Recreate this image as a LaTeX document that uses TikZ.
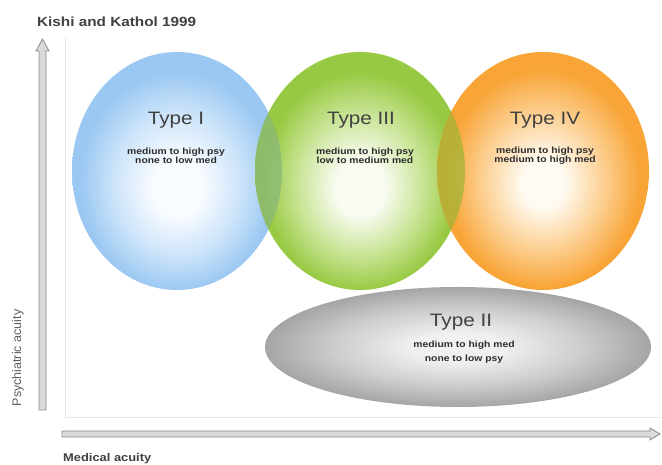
\documentclass[tikz,border=0pt]{standalone}
\usepackage{fontspec}
\setmainfont{Liberation Sans}[FakeStretch=1.15]
\newfontfamily\plainsans{Liberation Sans}
\usetikzlibrary{shapes.geometric}
\definecolor{blueO}{RGB}{155,200,242}
\definecolor{blueM}{RGB}{205,228,250}
\definecolor{blueC}{RGB}{248,251,255}
\definecolor{greenO}{RGB}{152,201,66}
\definecolor{greenM}{RGB}{200,228,148}
\definecolor{greenC}{RGB}{248,251,240}
\definecolor{orangeO}{RGB}{248,164,54}
\definecolor{orangeM}{RGB}{252,204,138}
\definecolor{orangeC}{RGB}{255,251,242}
\definecolor{grayO}{RGB}{165,165,165}
\definecolor{grayM}{RGB}{205,205,205}
\definecolor{grayC}{RGB}{240,240,240}
\definecolor{lensBG}{RGB}{140,185,118}
\definecolor{lensGO}{RGB}{168,180,55}
\definecolor{ttlgray}{RGB}{65,65,65}
\definecolor{subgray}{RGB}{45,45,45}
\definecolor{axisline}{RGB}{140,140,140}
\definecolor{axisfill}{RGB}{218,218,218}
\definecolor{framegray}{RGB}{232,232,232}
\pgfdeclareradialshading{blueshade}{\pgfpoint{0bp}{-4bp}}{color(0bp)=(blueC); color(6bp)=(blueC); color(15bp)=(blueM); color(23bp)=(blueO); color(50bp)=(blueO)}
\pgfdeclareradialshading{greenshade}{\pgfpoint{0bp}{-4bp}}{color(0bp)=(greenC); color(6bp)=(greenC); color(15bp)=(greenM); color(23bp)=(greenO); color(50bp)=(greenO)}
\pgfdeclareradialshading{orangeshade}{\pgfpoint{0bp}{-3bp}}{color(0bp)=(orangeC); color(5bp)=(orangeC); color(15bp)=(orangeM); color(23bp)=(orangeO); color(50bp)=(orangeO)}
\pgfdeclareradialshading{grayshade}{\pgfpoint{0bp}{0bp}}{color(0bp)=(grayC); color(6bp)=(grayC); color(16bp)=(grayM); color(25bp)=(grayO); color(50bp)=(grayO)}
\begin{document}
\begin{tikzpicture}[x=1pt,y=1pt,
  blob/.style={ellipse, draw=none, inner sep=0pt, outer sep=0pt, shade},
  ttl/.style={font=\fontsize{18}{20}\selectfont, text=ttlgray, inner sep=0pt},
  sub/.style={font=\fontsize{9}{9}\selectfont\bfseries, text=subgray, align=center, inner sep=0pt},
  axisarrow/.style={draw=axisline, fill=axisfill, line width=0.8pt, line join=miter},
  frameline/.style={draw=framegray, line width=1pt}]
\useasboundingbox[fill=white] (0,0) rectangle (662,465);
% faint frame
\coordinate (fo) at (65,47);
\coordinate (ft) at (65,427);
\coordinate (fr) at (662,47);
\draw[frameline] (ft) -- (fo) -- (fr);
% axes (hollow block arrows)
\draw[axisarrow] (39,55) -- (39,414) -- (36,414) -- (42.5,426) -- (49,414) -- (46,414) -- (46,55) -- cycle;
\draw[axisarrow] (62,28) -- (650,28) -- (650,25) -- (660,31) -- (650,37) -- (650,34) -- (62,34) -- cycle;
% ellipses
\node[blob, minimum width=210pt, minimum height=238pt, shading=blueshade] (e1) at (177,294) {};
\node[blob, minimum width=210pt, minimum height=238pt, shading=greenshade] (e3) at (360,294) {};
\node[blob, minimum width=212pt, minimum height=238pt, shading=orangeshade] (e4) at (543,294) {};
% overlaps
\begin{scope}
  \clip (e1.center) ellipse [x radius=105, y radius=119];
  \fill[lensBG, fill opacity=0.8] (e3.center) ellipse [x radius=105, y radius=119];
\end{scope}
\begin{scope}
  \clip (e3.center) ellipse [x radius=105, y radius=119];
  \fill[lensGO, fill opacity=0.8] (e4.center) ellipse [x radius=106, y radius=119];
\end{scope}
\node[blob, minimum width=386pt, minimum height=120pt, shading=grayshade] (e2) at (458,118) {};
% texts
\node[ttl] (t1) at (176,345) {Type I};
\node[sub] (s1) at (176,309) {medium to high psy\\none to low med};
\node[ttl] (t3) at (361,345) {Type III};
\node[sub] (s3) at (365,309) {medium to high psy\\low to medium med};
\node[ttl] (t4) at (545,345) {Type IV};
\node[sub] (s4) at (545,309) {medium to high psy\\medium to high med};
\node[ttl] (t2) at (461,143) {Type II};
\node[sub, font=\fontsize{9}{14}\selectfont\bfseries] (s2) at (464,113) {medium to high med\\none to low psy};
% axis labels and title
\node[anchor=west, inner sep=0pt, font=\fontsize{13.3}{15}\selectfont\bfseries, text=ttlgray] (title) at (37,443) {Kishi and Kathol 1999};
\node[anchor=west, inner sep=0pt, font=\fontsize{11.2}{13}\selectfont\bfseries, text=ttlgray] (xlab) at (63,6) {Medical acuity};
\node[rotate=90, inner sep=0pt, font=\plainsans\fontsize{12.5}{14}\selectfont, text={rgb,255:red,95;green,95;blue,95}] (ylab) at (18,107) {Psychiatric acuity};
\end{tikzpicture}
\end{document}
